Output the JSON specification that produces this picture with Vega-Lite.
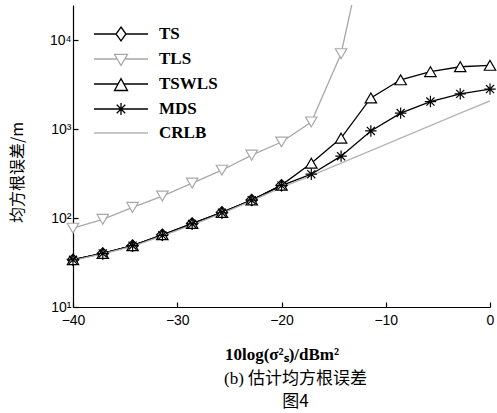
{
  "$schema": "https://vega.github.io/schema/vega-lite/v6.json",
  "width": 417,
  "height": 302,
  "autosize": {"type": "none"},
  "padding": {"left": 73, "top": 5, "right": 7, "bottom": 106},
  "background": "white",
  "config": {
    "view": {"stroke": null},
    "axis": {
      "domainColor": "black",
      "domainWidth": 1.2,
      "tickColor": "black",
      "tickWidth": 1.2,
      "tickSize": -5,
      "grid": false,
      "labelFlush": false,
      "labelFont": "Liberation Sans",
      "labelFontSize": 14,
      "labelColor": "black"
    }
  },
  "title": {
    "text": "(b) 估计均方根误差",
    "subtitle": "图4",
    "orient": "bottom",
    "anchor": "middle",
    "frame": "group",
    "dx": 14,
    "offset": 9,
    "font": "Liberation Serif, Noto Sans CJK SC",
    "fontSize": 17,
    "fontWeight": "normal",
    "color": "black",
    "subtitleFont": "Noto Sans CJK SC",
    "subtitleFontSize": 17,
    "subtitleColor": "black",
    "subtitlePadding": 6
  },
  "data": {
    "values": [
      {"method": "TS", "x": -40, "y": 34},
      {"method": "TS", "x": -37.143, "y": 40},
      {"method": "TS", "x": -34.286, "y": 49},
      {"method": "TS", "x": -31.429, "y": 65},
      {"method": "TS", "x": -28.571, "y": 87},
      {"method": "TS", "x": -25.714, "y": 116},
      {"method": "TS", "x": -22.857, "y": 160},
      {"method": "TS", "x": -20, "y": 234},
      {"method": "TLS", "x": -40, "y": 77},
      {"method": "TLS", "x": -37.143, "y": 97},
      {"method": "TLS", "x": -34.286, "y": 132},
      {"method": "TLS", "x": -31.429, "y": 177},
      {"method": "TLS", "x": -28.571, "y": 248},
      {"method": "TLS", "x": -25.714, "y": 346},
      {"method": "TLS", "x": -22.857, "y": 511},
      {"method": "TLS", "x": -20, "y": 719},
      {"method": "TLS", "x": -17.143, "y": 1208},
      {"method": "TLS", "x": -14.286, "y": 7080},
      {"method": "TLS", "x": -11.429, "y": 240000},
      {"method": "TSWLS", "x": -40, "y": 34},
      {"method": "TSWLS", "x": -37.143, "y": 40},
      {"method": "TSWLS", "x": -34.286, "y": 49},
      {"method": "TSWLS", "x": -31.429, "y": 65},
      {"method": "TSWLS", "x": -28.571, "y": 87},
      {"method": "TSWLS", "x": -25.714, "y": 116},
      {"method": "TSWLS", "x": -22.857, "y": 160},
      {"method": "TSWLS", "x": -20, "y": 235},
      {"method": "TSWLS", "x": -17.143, "y": 415},
      {"method": "TSWLS", "x": -14.286, "y": 795},
      {"method": "TSWLS", "x": -11.429, "y": 2250},
      {"method": "TSWLS", "x": -8.571, "y": 3600},
      {"method": "TSWLS", "x": -5.714, "y": 4450},
      {"method": "TSWLS", "x": -2.857, "y": 5050},
      {"method": "TSWLS", "x": 0, "y": 5240},
      {"method": "MDS", "x": -40, "y": 34},
      {"method": "MDS", "x": -37.143, "y": 40},
      {"method": "MDS", "x": -34.286, "y": 49},
      {"method": "MDS", "x": -31.429, "y": 64},
      {"method": "MDS", "x": -28.571, "y": 86},
      {"method": "MDS", "x": -25.714, "y": 115},
      {"method": "MDS", "x": -22.857, "y": 159},
      {"method": "MDS", "x": -20, "y": 232},
      {"method": "MDS", "x": -17.143, "y": 312},
      {"method": "MDS", "x": -14.286, "y": 498},
      {"method": "MDS", "x": -11.429, "y": 957},
      {"method": "MDS", "x": -8.571, "y": 1520},
      {"method": "MDS", "x": -5.714, "y": 2050},
      {"method": "MDS", "x": -2.857, "y": 2500},
      {"method": "MDS", "x": 0, "y": 2830},
      {"method": "CRLB", "x": -40, "y": 33.5},
      {"method": "CRLB", "x": -37.143, "y": 39.5},
      {"method": "CRLB", "x": -34.286, "y": 48},
      {"method": "CRLB", "x": -31.429, "y": 63},
      {"method": "CRLB", "x": -28.571, "y": 84},
      {"method": "CRLB", "x": -25.714, "y": 113},
      {"method": "CRLB", "x": -22.857, "y": 156},
      {"method": "CRLB", "x": -20, "y": 222},
      {"method": "CRLB", "x": -17.143, "y": 300},
      {"method": "CRLB", "x": -14.286, "y": 415},
      {"method": "CRLB", "x": -11.429, "y": 575},
      {"method": "CRLB", "x": -8.571, "y": 795},
      {"method": "CRLB", "x": -5.714, "y": 1100},
      {"method": "CRLB", "x": -2.857, "y": 1520},
      {"method": "CRLB", "x": 0, "y": 2080}
    ]
  },
  "encoding": {
    "x": {
      "field": "x",
      "type": "quantitative",
      "scale": {"domain": [-40, 0], "nice": false, "zero": false},
      "axis": {
        "values": [-40, -30, -20, -10, 0],
        "labelPadding": 11,
        "title": "10log(σ²ₛ)/dBm²",
        "titleFont": "Liberation Serif",
        "titleFontSize": 17,
        "titleFontWeight": "bold",
        "titleColor": "black",
        "titlePadding": 19
      }
    },
    "y": {
      "field": "y",
      "type": "quantitative",
      "scale": {"type": "log", "domain": [10, 25000], "nice": false},
      "axis": {
        "values": [10, 100, 1000, 10000],
        "labelExpr": "datum.value == 10 ? '10¹' : datum.value == 100 ? '10²' : datum.value == 1000 ? '10³' : '10⁴'",
        "labelPadding": 7,
        "title": "均方根误差/m",
        "titleFont": "Noto Sans CJK SC",
        "titleFontSize": 16,
        "titleFontWeight": "normal",
        "titleColor": "black",
        "titleX": -48,
        "titleY": 167
      }
    }
  },
  "layer": [
    {
      "mark": {"type": "line", "clip": true, "strokeWidth": 1.3},
      "encoding": {
        "color": {
          "field": "method",
          "type": "nominal",
          "scale": {
            "domain": ["TS", "TLS", "TSWLS", "MDS", "CRLB"],
            "range": ["black", "#a8a8a8", "black", "black", "#b4b4b4"]
          },
          "legend": {
            "orient": "none",
            "legendX": 39,
            "legendY": 20,
            "title": null,
            "padding": 0,
            "symbolSize": 256,
            "symbolStrokeWidth": 1.3,
            "symbolFillColor": "white",
            "labelFont": "Liberation Serif",
            "labelFontSize": 17,
            "labelFontWeight": "bold",
            "labelColor": "black",
            "labelOffset": 29,
            "rowPadding": 6,
            "encode": {
              "symbols": {
                "update": {
                  "shape": {"signal": "datum.value === 'TS' ? 'M-3.375,0L-0.625,0M0.625,0L3.375,0M0,-0.875L0.625,0L0,0.875L-0.625,0Z' : datum.value === 'TLS' ? 'M-3.375,0L-0.47,0M0.47,0L3.375,0M-0.81,-0.57L0.81,-0.57L0,0.81Z' : datum.value === 'TSWLS' ? 'M-3.375,0L-0.37,0M0.37,0L3.375,0M0,-0.675L0.81,0.81L-0.81,0.81Z' : datum.value === 'MDS' ? 'M-3.375,0L3.375,0M0,-0.75L0,0.75M-0.53,-0.53L0.53,0.53M-0.53,0.53L0.53,-0.53' : 'M-3.375,0L3.375,0'"},
                  "fill": {"value": "white"}
                }
              }
            }
          }
        }
      }
    },
    {
      "transform": [{"filter": "datum.method != 'CRLB' && datum.y < 25000"}],
      "mark": {"type": "point", "filled": false, "fill": "white", "fillOpacity": 1, "opacity": 1, "strokeWidth": 1.2, "size": 130},
      "encoding": {
        "color": {"field": "method", "type": "nominal", "legend": null},
        "shape": {
          "field": "method",
          "type": "nominal",
          "legend": null,
          "scale": {
            "domain": ["TS", "TLS", "TSWLS", "MDS"],
            "range": ["diamond", "triangle-down", "triangle-up", "M-1,0L1,0M0,-1L0,1M-0.71,-0.71L0.71,0.71M-0.71,0.71L0.71,-0.71"]
          }
        }
      }
    }
  ]
}
